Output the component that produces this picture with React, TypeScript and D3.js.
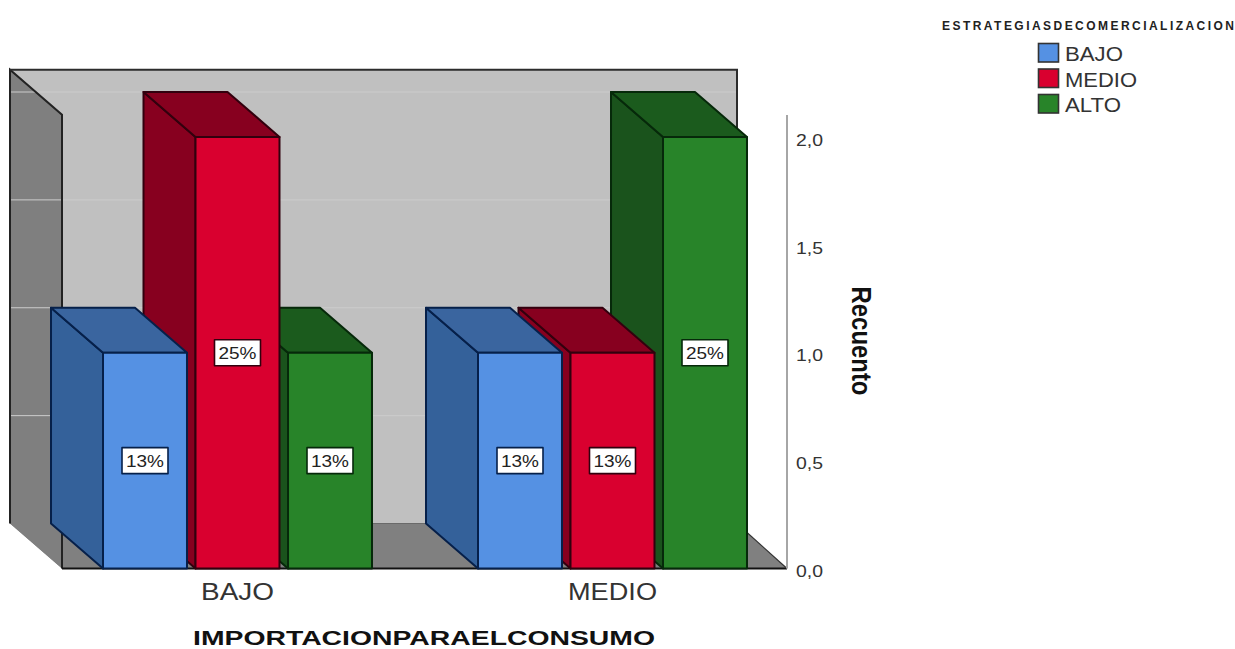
import React from "react";
import * as d3 from "d3";

// Counts per import level, split by commercialization strategy
const categories = ["BAJO", "MEDIO"];
const seriesNames = ["BAJO", "MEDIO", "ALTO"];
const countsBajo = [1, 2, 1];
const countsMedio = [1, 1, 2];
const percentBajo = ["13%", "25%", "13%"];
const percentMedio = ["13%", "13%", "25%"];
const yTicks = [0, 0.5, 1, 1.5, 2];

const frontColors = ["#5591e3", "#d9002f", "#288429"];
const sideColors = ["#34619a", "#87001f", "#1a531c"];
const topColors = ["#3a659f", "#87001f", "#1b5b1d"];
const edgeColors = ["#06204a", "#32000e", "#06290a"];
const legendWidths = [58, 72, 56];

const W = 1235;
const H = 649;
const DEPTH_X = -52;
const DEPTH_Y = -45;
const FONT = "'Liberation Sans', Arial, sans-serif";
const WALL_TOP_VALUE = 2.103;

const y = d3.scaleLinear().domain([0, 2]).range([568.5, 137]);
const groupX = d3.scalePoint().domain(categories).range([237.5, 612.5]);
const barX = d3
  .scaleBand()
  .domain(seriesNames)
  .range([-138.75, 138.75])
  .paddingInner(0.092)
  .paddingOuter(0.046);

const pts = (p: [number, number][]) => p.map((d) => d.join(",")).join(" ");

function Bar({ cat, i, value, label }: { cat: string; i: number; value: number; label: string }) {
  const x0 = (groupX(cat) as number) + (barX(seriesNames[i]) as number);
  const x1 = x0 + barX.bandwidth();
  const yT = y(value);
  const yB = y(0);
  const edge = edgeColors[i];
  const cx = (x0 + x1) / 2;
  const cy = y(value / 2);
  return (
    <g strokeLinejoin="round">
      <polygon
        points={pts([[x0, yT], [x0 + DEPTH_X, yT + DEPTH_Y], [x0 + DEPTH_X, yB + DEPTH_Y], [x0, yB]])}
        fill={sideColors[i]}
        stroke={edge}
        strokeWidth={2}
      />
      <polygon
        points={pts([[x0, yT], [x0 + DEPTH_X, yT + DEPTH_Y], [x1 + DEPTH_X, yT + DEPTH_Y], [x1, yT]])}
        fill={topColors[i]}
        stroke={edge}
        strokeWidth={2}
      />
      <rect x={x0} y={yT} width={x1 - x0} height={yB - yT} fill={frontColors[i]} stroke={edge} strokeWidth={2} />
      <rect x={cx - 23} y={cy - 13} width={46} height={26} fill="#fff" stroke={edge} strokeWidth={1.6} />
      <text
        x={cx}
        y={cy + 6.5}
        textAnchor="middle"
        fontSize={17}
        fill="#222"
        fontFamily={FONT}
        textLength={38}
        lengthAdjust="spacingAndGlyphs"
      >
        {label}
      </text>
    </g>
  );
}

export default function App() {
  const backLeft = 10;
  const frontLeft = backLeft - DEPTH_X;
  const backRight = 737;
  const frontRight = backRight - DEPTH_X - 2;
  const wallTop = y(WALL_TOP_VALUE) + DEPTH_Y;
  const floorBack = y(0) + DEPTH_Y;
  const floorFront = y(0);
  const groups = [
    { cat: categories[1], values: countsMedio, labels: percentMedio },
    { cat: categories[0], values: countsBajo, labels: percentBajo },
  ];
  return (
    <svg
      width={W}
      height={H}
      viewBox={`0 0 ${W} ${H}`}
      style={{ position: "absolute", left: 0, top: 0, background: "#fff", display: "block" }}
    >
      {/* back wall */}
      <rect x={backLeft} y={wallTop} width={backRight - backLeft} height={floorBack - wallTop} fill="#c0c0c0" />
      {/* floor */}
      <polygon
        points={pts([[backLeft, floorBack], [backRight, floorBack], [frontRight, floorFront], [frontLeft, floorFront]])}
        fill="#808080"
      />
      <line x1={backLeft} x2={backRight} y1={floorBack} y2={floorBack} stroke="#6a6a6a" strokeWidth={1} />
      {/* left wall */}
      <polygon
        points={pts([[backLeft, wallTop], [frontLeft, wallTop - DEPTH_Y], [frontLeft, floorFront], [backLeft, floorBack]])}
        fill="#7f7f7f"
      />
      {/* gridlines on the back wall */}
      {yTicks.slice(1).map((t) => (
        <line
          key={t}
          x1={backLeft}
          x2={backRight}
          y1={y(t) + DEPTH_Y}
          y2={y(t) + DEPTH_Y}
          stroke="#cccccc"
          strokeWidth={1}
        />
      ))}
      {/* wall outlines */}
      <path
        d={`M${frontLeft},${floorFront}L${frontLeft},${wallTop - DEPTH_Y}L${backLeft},${wallTop}L${backLeft},${floorBack}`}
        fill="none"
        stroke="#222"
        strokeWidth={2}
      />
      <path
        d={`M${backLeft},${wallTop}L${backRight},${wallTop}L${backRight},${floorBack}`}
        fill="none"
        stroke="#2c2c2c"
        strokeWidth={2}
      />
      <line x1={frontLeft} x2={frontRight} y1={floorFront} y2={floorFront} stroke="#111" strokeWidth={2} />
      <line x1={backRight} x2={frontRight} y1={floorBack} y2={floorFront} stroke="#333" strokeWidth={1.2} />

      {/* boxes painted right to left so nearer sides hide the ones behind */}
      {groups.map((g) =>
        [2, 1, 0].map((i) => (
          <Bar key={`${g.cat}-${i}`} cat={g.cat} i={i} value={g.values[i]} label={g.labels[i]} />
        ))
      )}

      {/* value axis */}
      <line x1={787} x2={787} y1={115} y2={floorFront} stroke="#a6a6a6" strokeWidth={2} />
      {yTicks.map((t) => (
        <text
          key={t}
          x={796}
          y={y(t) + 8.7}
          fontSize={16.5}
          fill="#333"
          fontFamily={FONT}
          textLength={27}
          lengthAdjust="spacingAndGlyphs"
        >
          {d3.format(".1f")(t).replace(".", ",")}
        </text>
      ))}
      <text
        transform="translate(852,341) rotate(90)"
        textAnchor="middle"
        fontSize={27}
        fontWeight={700}
        fill="#111"
        fontFamily={FONT}
        textLength={109}
        lengthAdjust="spacingAndGlyphs"
      >
        Recuento
      </text>

      {/* category axis */}
      {categories.map((c) => (
        <text
          key={c}
          x={groupX(c) as number}
          y={600}
          textAnchor="middle"
          fontSize={23.5}
          fill="#333"
          fontFamily={FONT}
          textLength={c === "BAJO" ? 73 : 89}
          lengthAdjust="spacingAndGlyphs"
        >
          {c}
        </text>
      ))}
      <text
        x={424}
        y={644.5}
        textAnchor="middle"
        fontSize={21}
        fontWeight={700}
        fill="#111"
        fontFamily={FONT}
        textLength={462}
        lengthAdjust="spacingAndGlyphs"
      >
        IMPORTACIONPARAELCONSUMO
      </text>

      {/* legend */}
      <text
        x={942}
        y={30}
        fontSize={12}
        fontWeight={700}
        fill="#222"
        fontFamily={FONT}
        textLength={292}
        lengthAdjust="spacing"
      >
        ESTRATEGIASDECOMERCIALIZACION
      </text>
      {seriesNames.map((s, i) => (
        <g key={s}>
          <rect
            x={1038.5}
            y={43.5 + i * 25.5}
            width={20}
            height={18.5}
            fill={frontColors[i]}
            stroke="#333"
            strokeWidth={1.6}
          />
          <text
            x={1065}
            y={61 + i * 25.5}
            fontSize={19.5}
            fill="#333"
            fontFamily={FONT}
            textLength={legendWidths[i]}
            lengthAdjust="spacingAndGlyphs"
          >
            {s}
          </text>
        </g>
      ))}
    </svg>
  );
}
